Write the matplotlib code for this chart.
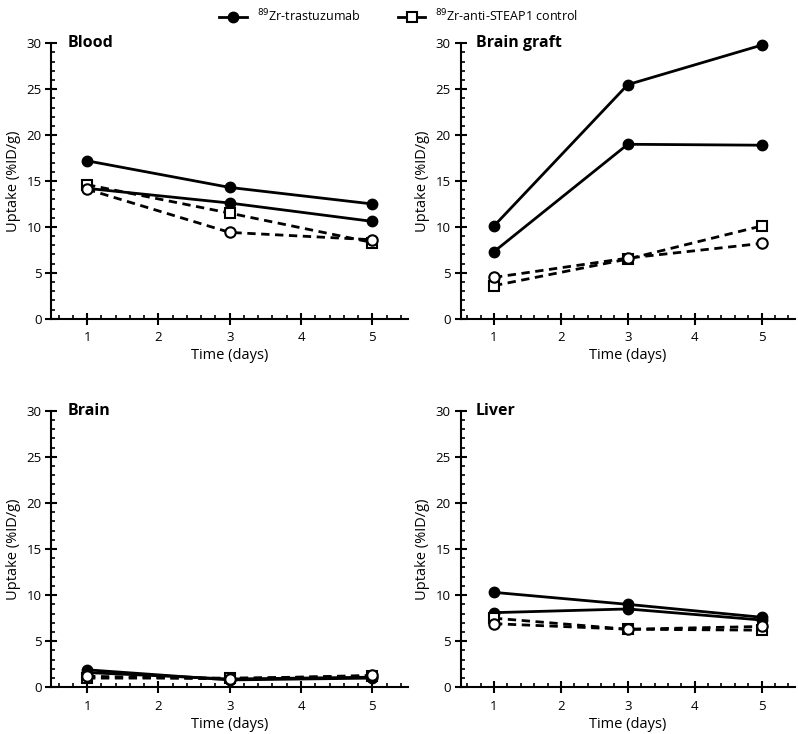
import matplotlib.pyplot as plt
from matplotlib.lines import Line2D
from matplotlib.ticker import MultipleLocator

plt.rcParams['font.family'] = ['Open Sans', 'DejaVu Sans']

days = [1, 3, 5]
organs = ['Blood', 'Brain graft', 'Brain', 'Liver']

# two animals per group, %ID/g
trast_a = {'Blood': [17.2, 14.3, 12.5], 'Brain graft': [10.1, 25.5, 29.8],
           'Brain': [1.9, 0.8, 1.0], 'Liver': [10.3, 9.0, 7.6]}
trast_b = {'Blood': [14.2, 12.6, 10.6], 'Brain graft': [7.3, 19.0, 18.9],
           'Brain': [1.6, 0.9, 1.1], 'Liver': [8.1, 8.5, 7.3]}
ctrl_a = {'Blood': [14.6, 11.5, 8.3], 'Brain graft': [3.6, 6.5, 10.1],
          'Brain': [1.0, 1.0, 1.2], 'Liver': [7.5, 6.3, 6.2]}
ctrl_b = {'Blood': [14.1, 9.4, 8.6], 'Brain graft': [4.5, 6.6, 8.2],
          'Brain': [1.2, 0.9, 1.3], 'Liver': [6.9, 6.3, 6.6]}

fig = plt.figure(figsize=(7.98, 7.34), dpi=100)
positions = [
    [0.0644, 0.5658, 0.4469, 0.3752],
    [0.5771, 0.5658, 0.4192, 0.3752],
    [0.0644, 0.0636, 0.4469, 0.3768],
    [0.5771, 0.0636, 0.4192, 0.3768],
]

ms = 7.5
for organ, pos in zip(organs, positions):
    ax = fig.add_axes(pos)
    ax.plot(days, trast_a[organ], '-o', color='black', lw=2, ms=ms, clip_on=False, zorder=3)
    ax.plot(days, trast_b[organ], '-o', color='black', lw=2, ms=ms, clip_on=False, zorder=3)
    ax.plot(days, ctrl_a[organ], '--s', color='black', lw=2, ms=ms - 1, mfc='white',
            mec='black', mew=1.5, dashes=(3, 2), clip_on=False, zorder=4)
    ax.plot(days, ctrl_b[organ], '--o', color='black', lw=2, ms=ms, mfc='white',
            mec='black', mew=1.5, dashes=(3, 2), clip_on=False, zorder=4)

    ax.set_xlim(0.5, 5.5)
    ax.set_ylim(0, 30)
    ax.xaxis.set_minor_locator(MultipleLocator(0.2))
    ax.yaxis.set_major_locator(MultipleLocator(5))
    ax.yaxis.set_minor_locator(MultipleLocator(1))
    ax.set_xticks([1, 2, 3, 4, 5])
    ax.set_xticklabels(['1', '2', '3', '4', '5'])
    ax.tick_params(which='major', direction='inout', length=8, width=1.5,
                   labelsize=9.5, pad=3)
    ax.tick_params(axis='x', which='major', pad=5)
    ax.tick_params(which='minor', direction='in', length=3, width=1.2)
    for s in ['top', 'right']:
        ax.spines[s].set_visible(False)
    for s in ['left', 'bottom']:
        ax.spines[s].set_linewidth(1.5)
    ax.set_xlabel('Time (days)', fontsize=10.5, labelpad=3)
    ax.set_ylabel('Uptake (%ID/g)', fontsize=10.5, labelpad=4)
    ax.text(0.045, 1.0, organ, transform=ax.transAxes, fontsize=11.5,
            fontweight='bold', va='center', ha='left')

handles = [
    Line2D([], [], color='black', lw=2, marker='o', ms=ms),
    Line2D([], [], color='black', lw=2, marker='s', ms=ms - 1, mfc='white', mew=1.5),
]
labels = ['$^{89}$Zr-trastuzumab', '$^{89}$Zr-anti-STEAP1 control']
fig.legend(handles, labels, loc='upper center', bbox_to_anchor=(0.5, 1.005), ncol=2,
           frameon=False, fontsize=9, handlelength=2.2, columnspacing=3,
           handletextpad=0.8)

fig.savefig('out.png', dpi=100)
